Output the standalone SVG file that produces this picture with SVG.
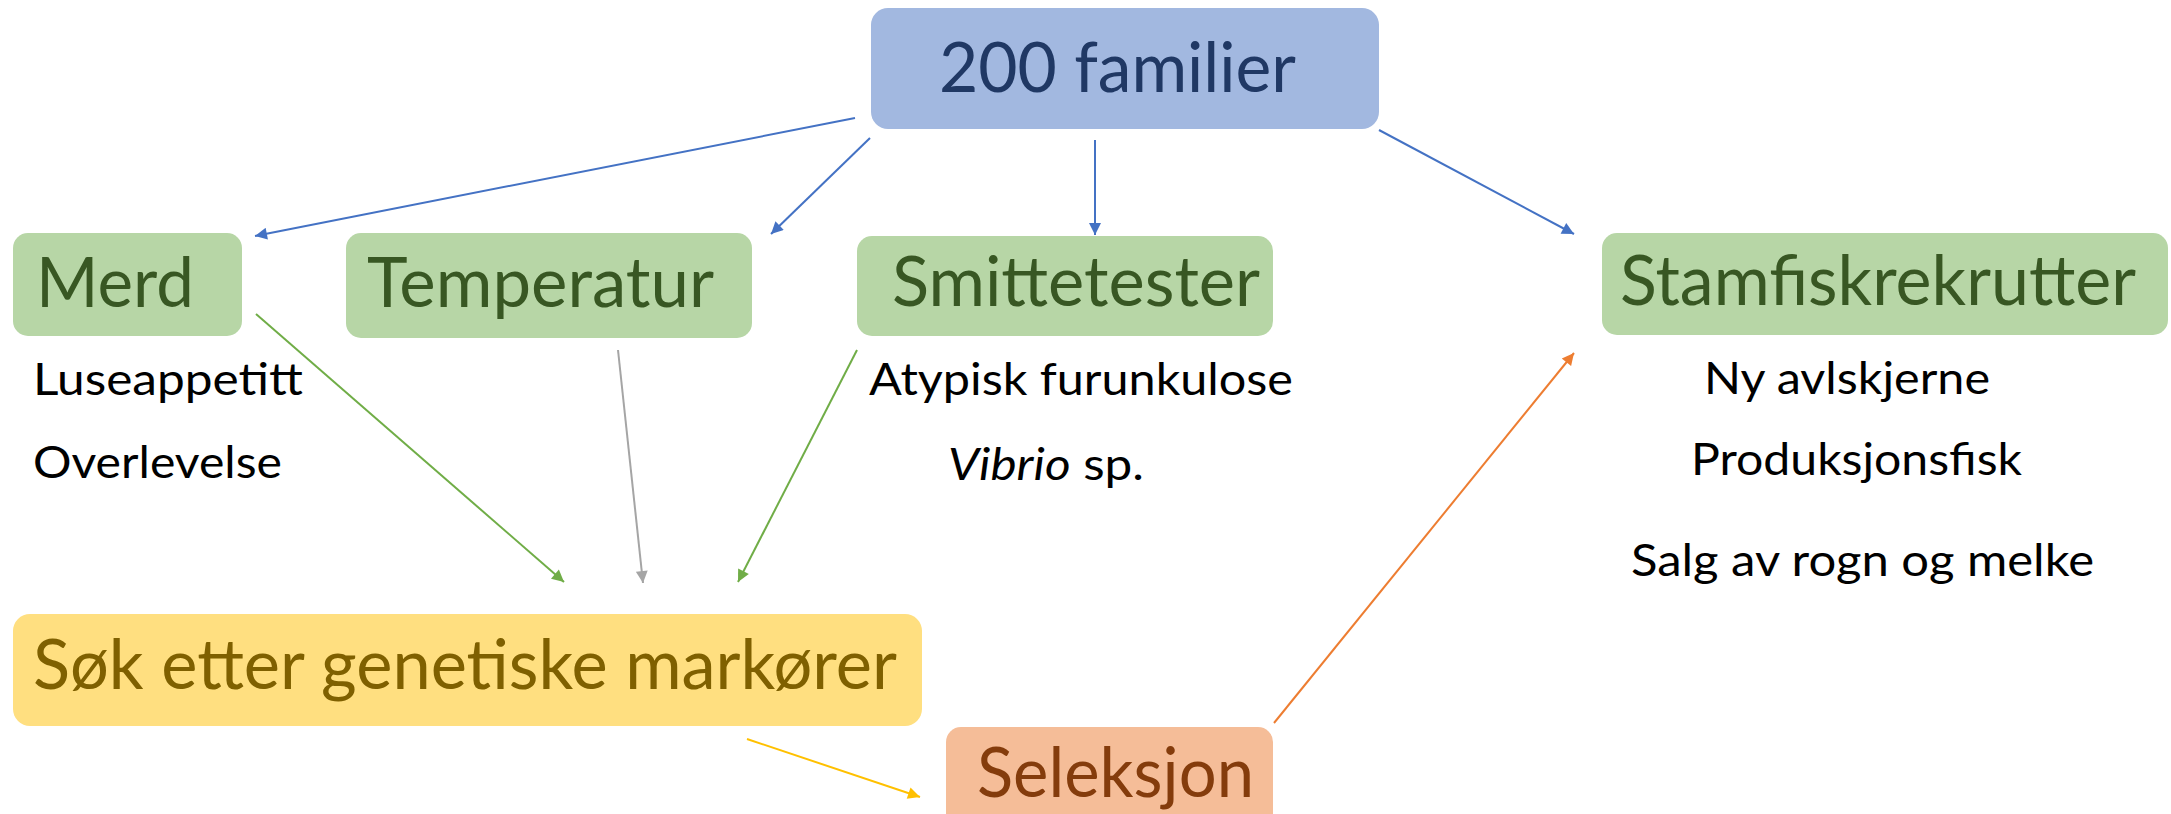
<svg xmlns="http://www.w3.org/2000/svg" width="2171" height="814" viewBox="0 0 2171 814">
<style>
  .big { font-family: Lato, "Open Sans", "Liberation Sans", sans-serif; font-size: 70px; }
  .small { font-family: Lato, "Open Sans", "Liberation Sans", sans-serif; font-size: 44px; fill: #000; }
  .green rect { fill: #B7D6A6; }
  .green text { fill: #385723; }
  .conn line { stroke-width: 2; fill: none; }
</style>
<defs>
  <marker id="ab" viewBox="0 0 10 10" refX="10" refY="5" markerWidth="7" markerHeight="6" orient="auto" markerUnits="strokeWidth"><path d="M0,0 L10,5 L0,10 z" fill="#4472C4"/></marker>
  <marker id="ag" viewBox="0 0 10 10" refX="10" refY="5" markerWidth="7" markerHeight="6" orient="auto" markerUnits="strokeWidth"><path d="M0,0 L10,5 L0,10 z" fill="#70AD47"/></marker>
  <marker id="agr" viewBox="0 0 10 10" refX="10" refY="5" markerWidth="7" markerHeight="6" orient="auto" markerUnits="strokeWidth"><path d="M0,0 L10,5 L0,10 z" fill="#A5A5A5"/></marker>
  <marker id="ay" viewBox="0 0 10 10" refX="10" refY="5" markerWidth="7" markerHeight="6" orient="auto" markerUnits="strokeWidth"><path d="M0,0 L10,5 L0,10 z" fill="#FFC000"/></marker>
  <marker id="ao" viewBox="0 0 10 10" refX="10" refY="5" markerWidth="7" markerHeight="6" orient="auto" markerUnits="strokeWidth"><path d="M0,0 L10,5 L0,10 z" fill="#ED7D31"/></marker>
</defs>
<rect width="2171" height="814" fill="#fff"/>

<g id="connectors" class="conn">
  <line x1="855" y1="118" x2="255" y2="236" stroke="#4472C4" marker-end="url(#ab)"/>
  <line x1="870" y1="138" x2="771" y2="234" stroke="#4472C4" marker-end="url(#ab)"/>
  <line x1="1095" y1="140" x2="1095" y2="235" stroke="#4472C4" marker-end="url(#ab)"/>
  <line x1="1379" y1="130" x2="1574" y2="234" stroke="#4472C4" marker-end="url(#ab)"/>
  <line x1="256" y1="314" x2="564" y2="582" stroke="#70AD47" marker-end="url(#ag)"/>
  <line x1="618" y1="350" x2="643" y2="583" stroke="#A5A5A5" marker-end="url(#agr)"/>
  <line x1="857" y1="350" x2="738" y2="582" stroke="#70AD47" marker-end="url(#ag)"/>
  <line x1="747" y1="739" x2="920" y2="797" stroke="#FFC000" marker-end="url(#ay)"/>
  <line x1="1274" y1="723" x2="1574" y2="353" stroke="#ED7D31" marker-end="url(#ao)"/>
</g>

<g id="node-200-familier">
  <rect x="871" y="8" width="508" height="121" rx="17" fill="#A2B8E0"/>
  <text class="big" x="939" y="92" fill="#203864" textLength="357" lengthAdjust="spacingAndGlyphs">200 familier</text>
</g>

<g id="node-merd" class="green">
  <rect x="13" y="233" width="229" height="103" rx="15"/>
  <text class="big" x="36" y="307" textLength="158" lengthAdjust="spacingAndGlyphs">Merd</text>
</g>

<g id="node-temperatur" class="green">
  <rect x="346" y="233" width="406" height="105" rx="15"/>
  <text class="big" x="367" y="307" textLength="347" lengthAdjust="spacingAndGlyphs">Temperatur</text>
</g>

<g id="node-smittetester" class="green">
  <rect x="857" y="236" width="416" height="100" rx="15"/>
  <text class="big" x="892" y="306" textLength="368" lengthAdjust="spacingAndGlyphs">Smittetester</text>
</g>

<g id="node-stamfiskrekrutter" class="green">
  <rect x="1602" y="233" width="566" height="102" rx="15"/>
  <text class="big" x="1620" y="305" textLength="516" lengthAdjust="spacingAndGlyphs">Stamfiskrekrutter</text>
</g>

<g id="node-sok">
  <rect x="13" y="614" width="909" height="112" rx="17" fill="#FFDF80"/>
  <text class="big" x="33" y="689" fill="#7F6000" textLength="864" lengthAdjust="spacingAndGlyphs">Søk etter genetiske markører</text>
</g>

<g id="node-seleksjon">
  <rect x="946" y="727" width="327" height="110" rx="15" fill="#F5BD98"/>
  <text class="big" x="977" y="797" fill="#843C0C" textLength="277" lengthAdjust="spacingAndGlyphs">Seleksjon</text>
</g>

<g id="labels-merd">
  <text class="small" x="33" y="395" textLength="270" lengthAdjust="spacingAndGlyphs">Luseappetitt</text>
  <text class="small" x="33" y="478" textLength="249" lengthAdjust="spacingAndGlyphs">Overlevelse</text>
</g>

<g id="labels-smittetester">
  <text class="small" x="869" y="395" textLength="424" lengthAdjust="spacingAndGlyphs">Atypisk furunkulose</text>
  <text class="small" x="948" y="480" textLength="196" lengthAdjust="spacingAndGlyphs"><tspan font-style="italic">Vibrio</tspan> sp.</text>
</g>

<g id="labels-stamfisk">
  <text class="small" x="1704" y="394" textLength="286" lengthAdjust="spacingAndGlyphs">Ny avlskjerne</text>
  <text class="small" x="1691" y="475" textLength="331" lengthAdjust="spacingAndGlyphs">Produksjonsfisk</text>
  <text class="small" x="1631" y="576" textLength="463" lengthAdjust="spacingAndGlyphs">Salg av rogn og melke</text>
</g>
</svg>
